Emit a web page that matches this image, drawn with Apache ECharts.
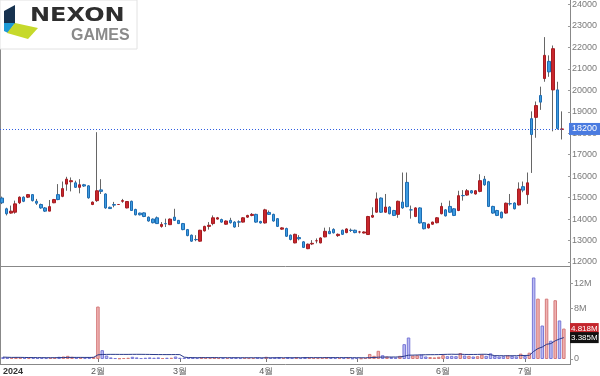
<!DOCTYPE html>
<html><head><meta charset="utf-8">
<script src="https://cdn.jsdelivr.net/npm/echarts@6/dist/echarts.min.js"></script>
<style>html,body{margin:0;padding:0;background:#fff}#c{width:600px;height:376px}</style>
</head><body><div id="c"></div>
<script>
const dates = [
'01/02','01/03','01/04','01/05','01/08','01/09','01/10','01/11','01/12','01/15','01/16','01/17','01/18','01/19','01/22','01/23','01/24','01/25','01/26','01/29','01/30','01/31',
'02/01','02/02','02/05','02/06','02/07','02/08','02/13','02/14','02/15','02/16','02/19','02/20','02/21','02/22','02/23','02/26','02/27','02/28','02/29',
'03/04','03/05','03/06','03/07','03/08','03/11','03/12','03/13','03/14','03/15','03/18','03/19','03/20','03/21','03/22','03/25','03/26','03/27','03/28','03/29',
'04/01','04/02','04/03','04/04','04/05','04/08','04/09','04/11','04/12','04/15','04/16','04/17','04/18','04/19','04/22','04/23','04/24','04/25','04/26','04/29','04/30',
'05/02','05/03','05/07','05/08','05/09','05/10','05/13','05/14','05/16','05/17','05/20','05/21','05/22','05/23','05/24','05/27','05/28','05/29','05/30','05/31',
'06/03','06/04','06/05','06/07','06/10','06/11','06/12','06/13','06/14','06/17','06/18','06/19','06/20','06/21','06/24','06/25','06/26','06/27','06/28',
'07/01','07/02','07/03','07/04','07/05','07/08','07/09','07/10','07/11','07/12'];
const opens = [
14980,14480,14280,14320,14760,15020,15020,15140,14830,14680,
14520,14370,14760,15140,15060,15630,15740,15690,15480,15600,
15550,14680,14860,15360,15170,14550,14680,14680,14830,14520,
14830,14450,14280,14290,14090,14000,14060,13660,13790,13740,
14090,13940,13790,13510,13250,13050,12970,13450,13660,13790,
14000,13980,13760,13940,13860,13870,13860,14090,14170,14220,
13890,13820,14310,14220,14020,13530,13560,13250,12890,13140,
12940,12620,12840,12990,12890,13170,13430,13520,13230,13480,
13370,13480,13480,13400,13350,13280,14090,14320,14980,14320,
14560,14400,14220,14790,15710,14430,14120,14520,13830,13590,
13760,13830,14250,14430,14590,14480,14400,15100,15120,15320,
15170,15290,15860,15740,14590,14400,14320,14280,14720,14750,
14660,15510,15140,18680,18740,19760,20550,21350,20020,20020,
18180];
const closes = [
14760,14250,14370,14710,15020,14830,15140,14860,14740,14520,
14370,14580,14910,14910,15420,15860,15790,15480,15600,15540,
14990,14790,15320,15290,14520,14490,14650,14680,14860,14820,
14400,14200,14200,14120,13910,13830,13790,13750,13780,14000,
13940,13790,13510,13230,12970,13040,13480,13660,13710,14060,
14060,13860,13910,13830,13630,13860,14060,14170,14220,13860,
13820,14430,14220,13910,13660,13590,13200,13050,13290,13080,
12680,12830,12870,12990,13120,13430,13320,13360,13290,13290,
13540,13470,13370,13400,13400,14120,14170,14940,14320,14560,
14250,14170,14830,14520,14580,14430,14520,13820,13550,13760,
13860,14060,14590,14150,14320,14170,15090,15090,15320,15220,
15320,15790,15600,14590,14280,14170,14060,14740,14710,14480,
15400,15350,15690,17940,19290,19450,21630,20860,21940,18220,
18200];
const lows = [
14700,14170,14250,14250,14700,14790,14980,14820,14660,14480,
14330,14370,14740,14880,15020,15320,15290,15450,15200,15500,
14950,14650,14800,15170,14480,14470,14550,14670,14760,14500,
14380,14170,14170,14090,13880,13800,13770,13600,13630,13720,
13910,13770,13480,13200,12940,12970,12950,13420,13510,13710,
13980,13830,13740,13790,13600,13630,13840,14060,14130,13830,
13790,13790,14190,13880,13630,13500,13170,13010,12870,13010,
12650,12600,12790,12870,12870,13150,13300,13330,13170,13260,
13340,13400,13340,13330,13330,13260,14060,14300,14290,14300,
14220,14140,14060,14480,14550,14020,14090,13790,13520,13560,
13740,13800,14220,14120,14290,14140,14370,14860,15090,15190,
15140,15250,15550,14560,14250,14140,14030,14250,14630,14450,
14630,15250,14710,16150,17790,19090,20400,20630,18090,18170,
17710];
const highs = [
15050,14530,14630,14860,15060,15060,15170,15160,14940,14720,
14560,14890,14940,15630,15750,15970,15940,15790,15860,15640,
15580,14820,18050,15860,15200,14580,14800,14700,14940,14840,
14860,14480,14300,14310,14120,14030,14120,13860,14020,14030,
14480,13960,13820,13540,13280,13250,13500,13690,13860,14170,
14100,14020,13940,14060,13900,13940,14090,14200,14280,14250,
13920,14480,14400,14250,14040,13620,13600,13280,13320,13250,
12970,12860,13020,13100,13150,13600,13620,13570,13330,13510,
13570,13560,13510,13450,13430,14150,14550,15240,15010,15170,
14600,14430,14860,16170,16170,14630,14550,14550,13860,13790,
13880,14090,14760,14460,14860,14510,15320,15350,15400,15350,
15350,16090,16010,15780,14620,14430,14350,14770,15170,14780,
15710,15750,16170,19020,19480,20170,22480,21630,22090,20400,
19020];
const volumes = [
300000,250000,200000,280000,250000,180000,150000,200000,150000,180000,
150000,200000,220000,350000,400000,500000,350000,250000,250000,150000,
300000,350000,8300000,1400000,550000,250000,150000,100000,150000,200000,
350000,250000,150000,200000,250000,200000,250000,150000,200000,200000,
400000,200000,200000,200000,250000,150000,300000,200000,150000,250000,
150000,150000,150000,200000,200000,150000,200000,150000,150000,250000,
150000,350000,200000,250000,300000,150000,300000,200000,300000,150000,
300000,250000,150000,150000,200000,300000,200000,150000,150000,150000,
200000,100000,150000,100000,150000,800000,500000,1300000,600000,400000,
300000,250000,500000,2350000,3400000,550000,600000,700000,400000,300000,
250000,350000,600000,450000,500000,450000,950000,550000,500000,400000,
450000,700000,500000,900000,500000,400000,450000,600000,500000,400000,
850000,484000,1000000,12900000,9550000,5300000,9550000,2900000,9300000,6100000,
4818000];
const monthNames = {'01':'2024','02':'2월','03':'3월','04':'4월','05':'5월','06':'6월','07':'7월'};
const priceAxis = {min:12000, max:24000, step:1000};
const volAxis = {min:0, max:14400000, step:4000000};
const maLen = 20;

const UP = '#c8262c', UP_B = '#a51d22', DN = '#3d9be0', DN_B = '#1e6db3';
const FONT = 'Liberation Sans, Arial, sans-serif';
const isMonthStart = i => i === 0 || dates[i].slice(0,2) !== dates[i-1].slice(0,2);
const wickData = dates.map((d,i)=>[opens[i],closes[i],lows[i],highs[i]]);
const bodyData = dates.map((d,i)=>[opens[i],closes[i],Math.min(opens[i],closes[i]),Math.max(opens[i],closes[i])]);
const volData = volumes.map((v,i)=>({value:v,itemStyle:closes[i]>=opens[i]?
  {color:'rgba(236,160,160,0.8)',borderColor:'#d47a7a',borderWidth:1}:
  {color:'rgba(170,170,240,0.8)',borderColor:'#7878d6',borderWidth:1}}));
function ma(n){return volumes.map((v,i)=>{const s=Math.max(0,i-n+1);let t=0;for(let k=s;k<=i;k++)t+=volumes[k];return t/(i-s+1);});}
const maVol = ma(maLen);
const last = dates.length-1;
const fmtVol = v => v===0?'0':(v/1e6)+'M';
const hidden = {color:'rgba(0,0,0,0)',width:0};

const chart = echarts.init(document.getElementById('c'), null, {renderer:'canvas'});
const axisFont = {fontFamily:FONT, fontSize:9, color:'#7a7a7a'};
chart.setOption({
  animation:false,
  backgroundColor:'#fff',
  grid:[{left:0,width:566,top:2,height:260},{left:0,width:566,top:268,height:91}],
  xAxis:[
    {gridIndex:0,type:'category',data:dates,axisLine:{show:false},axisTick:{show:false},axisLabel:{show:false},splitLine:{show:false}},
    {gridIndex:1,type:'category',data:dates,offset:5,axisLine:{show:false},
     axisTick:{show:true,alignWithLabel:true,length:3,interval:(i)=>i>0&&isMonthStart(i),lineStyle:{color:'#777'}},
     axisLabel:Object.assign({},axisFont,{margin:3,interval:(i)=>isMonthStart(i),alignMinLabel:'left',color:'#555',
       formatter:(v,i)=>i===0?'{y|'+monthNames[v.slice(0,2)]+'}':monthNames[v.slice(0,2)],
       rich:{y:{fontWeight:'bold',color:'#333',fontSize:9,fontFamily:FONT}}}),splitLine:{show:false}}
  ],
  yAxis:[
    {gridIndex:0,type:'value',position:'right',offset:4,min:priceAxis.min,max:priceAxis.max,interval:priceAxis.step,
     axisLine:{show:false},axisTick:{show:true,length:3,lineStyle:{color:'#999'}},splitLine:{show:false},
     axisLabel:Object.assign({},axisFont,{margin:4,formatter:v=>String(v)})},
    {gridIndex:1,type:'value',position:'right',offset:4,min:volAxis.min,max:volAxis.max,interval:volAxis.step,
     axisLine:{show:false},axisTick:{show:true,length:3,lineStyle:{color:'#999'}},splitLine:{show:false},
     axisLabel:Object.assign({},axisFont,{margin:4,showMaxLabel:false,formatter:fmtVol})}
  ],
  series:[
    {type:'candlestick',xAxisIndex:0,yAxisIndex:0,data:wickData,barWidth:1,
     itemStyle:{color:'#666',color0:'#666',borderColor:'#666',borderColor0:'#666',borderWidth:1}},
    {type:'candlestick',xAxisIndex:0,yAxisIndex:0,data:bodyData,barWidth:3,
     itemStyle:{color:UP,color0:DN,borderColor:UP_B,borderColor0:DN_B,borderWidth:1},
     markLine:{symbol:'none',silent:true,animation:false,
       lineStyle:{color:'#2f5ee0',type:[1,2],width:1},
       label:{position:'end',distance:5,formatter:()=>String(closes[last]),backgroundColor:'#4a7be0',color:'#fff',
         fontSize:9,fontFamily:FONT,padding:[2,3,1,3]},
       data:[{yAxis:closes[last]}]}},
    {type:'bar',xAxisIndex:1,yAxisIndex:1,data:volData,barWidth:3.5,
     markLine:{symbol:'none',silent:true,animation:false,lineStyle:hidden,
       label:{show:true,position:'end',distance:4,backgroundColor:'#c4262d',color:'#fff',fontSize:8,
         fontFamily:FONT,padding:[2,1,1,1],formatter:()=>(volumes[last]/1e6).toFixed(3)+'M'},
       data:[{yAxis:volumes[last]}]}},
    {type:'line',xAxisIndex:1,yAxisIndex:1,data:maVol,symbol:'none',lineStyle:{color:'#2a3a8a',width:1},
     markLine:{symbol:'none',silent:true,animation:false,lineStyle:hidden,
       label:{show:true,position:'end',distance:4,backgroundColor:'#111',color:'#fff',fontSize:8,
         fontFamily:FONT,padding:[2,1,1,1],formatter:()=>(maVol[last]/1e6).toFixed(3)+'M'},
       data:[{yAxis:maVol[last]}]}}
  ],
  graphic:[
    {type:'line',shape:{x1:0.5,y1:0,x2:0.5,y2:364},style:{stroke:'#888',lineWidth:1},silent:true},
    {type:'line',shape:{x1:570.5,y1:0,x2:570.5,y2:365},style:{stroke:'#888',lineWidth:1},silent:true},
    {type:'line',shape:{x1:0,y1:266.5,x2:571,y2:266.5},style:{stroke:'#888',lineWidth:1},silent:true},
    {type:'line',shape:{x1:0,y1:364.5,x2:571,y2:364.5},style:{stroke:'#888',lineWidth:1},silent:true},
    {type:'rect',shape:{x:0,y:0,width:137,height:49},style:{fill:'#fff',stroke:'#e2e2e2',lineWidth:1},z:50},
    {type:'polygon',shape:{points:[[4,11],[15,5],[15,24],[4,24]]},style:{fill:'#17324f'},z:51},
    {type:'polygon',shape:{points:[[4,23],[15,23],[8,33],[4,31]]},style:{fill:'#1d9ad6'},z:51},
    {type:'polygon',shape:{points:[[15,23],[38,28],[28,39],[7,33]]},style:{fill:'#c6d92b'},z:51},
    {type:'text',x:30,y:6,scaleX:1.2,style:{text:'NEXON',font:'bold 20px "DejaVu Sans", sans-serif',fill:'#2e2e2e'},z:52},
    {type:'text',x:71,y:28,style:{text:'GAMES',font:'bold 16px "Liberation Sans", Arial, sans-serif',fill:'#8a8a8a'},z:52}
  ]
});
</script></body></html>
